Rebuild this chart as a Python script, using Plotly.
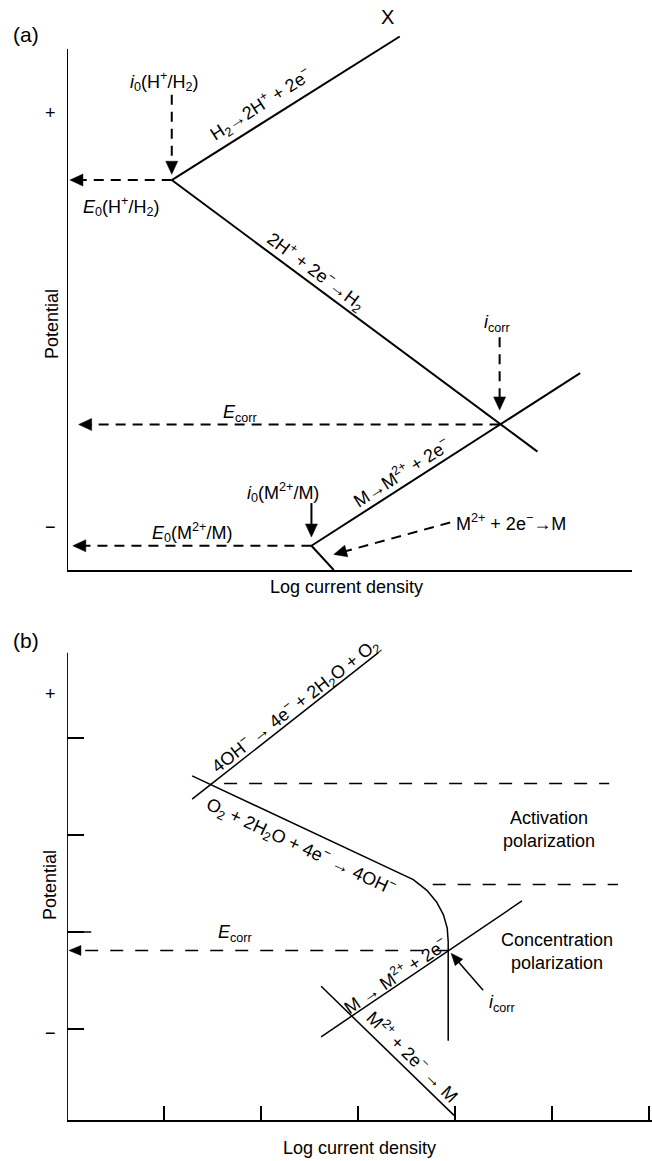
import math
import plotly.graph_objects as go

W, H = 652, 1161
FONT = "Liberation Sans, Arial, sans-serif"

# ---------------- Panel (a) data: x = log current density, y = potential (arbitrary units) ----------------
a_H_ox_logi = [1.08, 3.43]          # H2 -> 2H+ + 2e-
a_H_ox_E = [4.02, 5.50]
a_H_red_logi = [1.08, 4.85]         # 2H+ + 2e- -> H2
a_H_red_E = [4.02, 1.22]
a_M_ox_logi = [2.52, 5.29]          # M -> M2+ + 2e-
a_M_ox_E = [0.25, 2.03]
a_M_red_logi = [2.52, 2.75]         # M2+ + 2e- -> M
a_M_red_E = [0.25, 0.00]
a_E0_H, a_i0_H = 4.02, 1.08
a_E0_M, a_i0_M = 0.25, 2.52
a_Ecorr, a_icorr = 1.50, 4.46
a_axis_top = 5.37

# arrows of panel (a): tail x, tail y, tip x, tip y, dashed?
a_arrow_tail_x = [a_i0_H, a_i0_H, a_icorr, a_icorr, a_i0_M, a_i0_M, 3.95]
a_arrow_tail_y = [4.90, a_E0_H, 2.40, a_Ecorr, a_E0_M, 0.69, 0.49]
a_arrow_tip_x = [a_i0_H, 0.03, a_icorr, 0.12, 0.06, a_i0_M, 2.75]
a_arrow_tip_y = [4.08, a_E0_H, 1.65, a_Ecorr, a_E0_M, 0.34, 0.16]
a_arrow_dashed = [True, True, True, True, True, False, True]

# ---------------- Panel (b) data ----------------
b_O2_ox_logi = [1.29, 3.21]         # 4OH- -> 4e- + 2H2O + O2
b_O2_ox_E = [3.37, 4.88]
b_O2_red_logi = [1.29, 3.28, 3.43, 3.57, 3.71, 3.81, 3.88, 3.92, 3.93, 3.93]   # O2 reduction
b_O2_red_E = [3.61, 2.68, 2.61, 2.54, 2.43, 2.31, 2.18, 2.04, 1.90, 0.88]
b_M_ox_logi = [2.62, 4.69]          # M -> M2+ + 2e-
b_M_ox_E = [0.92, 2.32]
b_M_red_logi = [2.62, 3.99]         # M2+ + 2e- -> M
b_M_red_E = [1.44, 0.11]
b_Ecorr, b_icorr = 1.81, 3.93
b_act_E, b_act_logi = 3.53, [1.62, 5.59]
b_conc_E, b_conc_logi = 2.49, [3.77, 5.68]
b_xticks = [1, 2, 3, 4, 5, 6]
b_yticks = [1, 2, 3, 4]
b_axis_top = 4.88
b_axis_bottom = 0.062

b_arrow_tail_x = [b_icorr, 4.29]
b_arrow_tail_y = [b_Ecorr, 1.40]
b_arrow_tip_x = [0.02, 3.96]
b_arrow_tip_y = [b_Ecorr, 1.78]
b_arrow_dashed = [True, False]

PX = 97.0  # pixels per data unit (both panels, both axes)

fig = go.Figure()


def line(xs, ys, xa, ya, width, dash="solid"):
    fig.add_trace(go.Scatter(x=xs, y=ys, xaxis=xa, yaxis=ya, mode="lines",
                             line=dict(color="black", width=width, dash=dash),
                             hoverinfo="skip", showlegend=False))


def arrow(tx, ty, hx, hy, dashed, xa, ya, width, dash, L, hw):
    dx, dy = hx - tx, hy - ty
    n = math.hypot(dx, dy)
    ux, uy = dx / n, dy / n
    L, hw = L / PX, hw / PX
    bx, by = hx - L * ux, hy - L * uy
    line([tx, bx + ux * 0.01], [ty, by + uy * 0.01], xa, ya, width, dash if dashed else "solid")
    nx, ny = -uy, ux
    fig.add_trace(go.Scatter(x=[hx, bx + hw * nx, bx - hw * nx, hx],
                             y=[hy, by + hw * ny, by - hw * ny, hy],
                             xaxis=xa, yaxis=ya, mode="lines", fill="toself",
                             fillcolor="black", line=dict(color="black", width=0.5),
                             hoverinfo="skip", showlegend=False))


# panel (a)
LW_A = 2.0
DASH_A = "10px,7px"
line(a_H_ox_logi, a_H_ox_E, "x", "y", LW_A)
line(a_H_red_logi, a_H_red_E, "x", "y", LW_A)
line(a_M_ox_logi, a_M_ox_E, "x", "y", LW_A)
line(a_M_red_logi, a_M_red_E, "x", "y", LW_A)
line([0, 0], [0, a_axis_top], "x", "y", LW_A)
for i in range(len(a_arrow_tip_x)):
    arrow(a_arrow_tail_x[i], a_arrow_tail_y[i], a_arrow_tip_x[i], a_arrow_tip_y[i],
          a_arrow_dashed[i], "x", "y", LW_A, DASH_A, 13, 6)

# panel (b)
LW_B = 1.5
DASH_B = "13px,12px"
line(b_O2_ox_logi, b_O2_ox_E, "x2", "y2", LW_B)
line(b_O2_red_logi, b_O2_red_E, "x2", "y2", LW_B)
line(b_M_ox_logi, b_M_ox_E, "x2", "y2", LW_B)
line(b_M_red_logi, b_M_red_E, "x2", "y2", LW_B)
line(b_act_logi, [b_act_E, b_act_E], "x2", "y2", LW_B, DASH_B)
line(b_conc_logi, [b_conc_E, b_conc_E], "x2", "y2", LW_B, DASH_B)
line([0, 0], [b_axis_bottom, b_axis_top], "x2", "y2", 1.8)
line([0, 0.25], [2, 2], "x2", "y2", LW_B)   # longer tick
for i in range(len(b_arrow_tip_x)):
    arrow(b_arrow_tail_x[i], b_arrow_tail_y[i], b_arrow_tip_x[i], b_arrow_tip_y[i],
          b_arrow_dashed[i], "x2", "y2", LW_B, DASH_B, 12, 5)


def P(px, py):
    return px / W, 1 - py / H


ann = []
FS = 18


def label(text, px, py, size=FS, angle=0):
    x, y = P(px, py)
    ann.append(dict(text=text, x=x, y=y, xref="paper", yref="paper", showarrow=False,
                    xanchor="center", yanchor="middle", textangle=angle,
                    font=dict(family=FONT, size=size, color="black")))


# panel (a) text
label("(a)", 26, 35, 21)
label("X", 387, 17, 20)
label("+", 50, 113)
label("−", 50, 527)
label("Potential", 52, 324, FS, -90)
label("Log current density", 346, 587)
label("H<sub>2</sub>→2H<sup>+</sup> + 2e<sup>−</sup>", 261, 105, FS, -32.8)
label("2H<sup>+</sup> + 2e<sup>−</sup>→H<sub>2</sub>", 316, 271, FS, 36.8)
label("M→M<sup>2+</sup> + 2e<sup>−</sup>", 401, 472, FS, -32.7)
label("M<sup>2+</sup> + 2e<sup>−</sup>→M", 511, 522)
label("<i>i</i><sub>0</sub>(H<sup>+</sup>/H<sub>2</sub>)", 164, 82)
label("<i>E</i><sub>0</sub>(H<sup>+</sup>/H<sub>2</sub>)", 121, 207)
label("<i>i</i><sub>corr</sub>", 497, 323)
label("<i>E</i><sub>corr</sub>", 240, 413)
label("<i>i</i><sub>0</sub>(M<sup>2+</sup>/M)", 283, 492)
label("<i>E</i><sub>0</sub>(M<sup>2+</sup>/M)", 192, 532)

# panel (b) text
label("(b)", 26, 640, 21)
label("+", 50, 694)
label("−", 50, 1033)
label("Potential", 50, 885, FS, -90)
label("Log current density", 359, 1148)
label("4OH<sup>−</sup> → 4e<sup>−</sup> + 2H<sub>2</sub>O + O<sub>2</sub>", 295, 705, FS, -38)
label("O<sub>2</sub> + 2H<sub>2</sub>O + 4e<sup>−</sup> → 4OH<sup>−</sup>", 301, 846, FS, 25)
label("M → M<sup>2+</sup> + 2e<sup>−</sup>", 395, 975, FS, -34)
label("M<sup>2+</sup> + 2e<sup>−</sup> → M", 413, 1056, FS, 45)
label("<i>E</i><sub>corr</sub>", 235, 933)
label("<i>i</i><sub>corr</sub>", 502, 1003)
label("Activation<br>polarization", 549, 830)
label("Concentration<br>polarization", 557, 951)

fig.update_layout(
    width=W, height=H, margin=dict(l=0, r=0, t=0, b=0),
    paper_bgcolor="white", plot_bgcolor="white", showlegend=False, hovermode=False,
    annotations=ann,
    xaxis=dict(domain=[67 / W, 632 / W], range=[0, 565 / PX], showgrid=False, zeroline=False,
               showline=True, linecolor="black", linewidth=2, ticks="", showticklabels=False,
               anchor="y", fixedrange=True),
    yaxis=dict(domain=[1 - 570 / H, 1 - 10 / H], range=[0, 560 / PX], showgrid=False,
               zeroline=False, showline=False, ticks="", showticklabels=False,
               anchor="x", fixedrange=True),
    xaxis2=dict(domain=[67 / W, 1.0], range=[0, 585 / PX], showgrid=False, zeroline=False,
                showline=True, linecolor="black", linewidth=1.8, ticks="inside", ticklen=14,
                tickwidth=1.5, tickcolor="black", tickvals=b_xticks, showticklabels=False,
                anchor="y2", fixedrange=True),
    yaxis2=dict(domain=[1 - 1120 / H, 1 - 640 / H], range=[b_axis_bottom, b_axis_bottom + 480 / PX],
                showgrid=False, zeroline=False, showline=False, ticks="inside", ticklen=17,
                tickwidth=1.5, tickcolor="black", tickvals=b_yticks, showticklabels=False,
                anchor="x2", fixedrange=True),
)

fig.write_html("out.html")
